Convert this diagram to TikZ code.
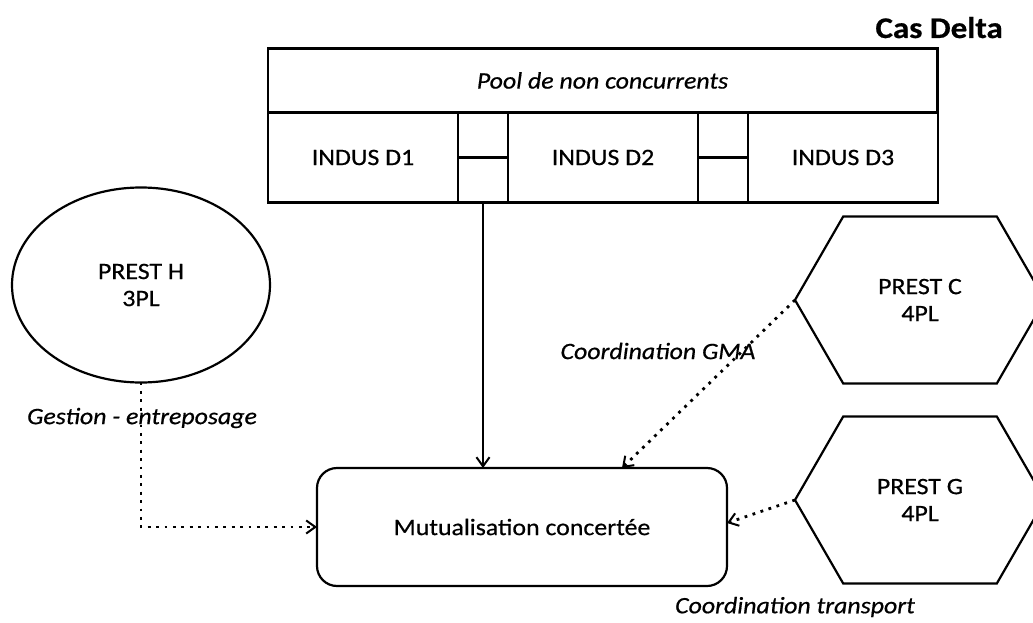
\documentclass[tikz,border=0pt]{standalone}
\usepackage{fontspec}
\setmainfont{Carlito}[FakeStretch=1.1, FakeBold=0.6]
\usetikzlibrary{arrows.meta, positioning, shapes.geometric, shapes.symbols, fit, calc}
\newcommand{\bigtxt}{\fontsize{23.5}{27}\selectfont}
\tikzset{
  >={Straight Barb[length=3.2mm, width=4.6mm, line width=2pt]},
  box/.style={rectangle, draw=black, line width=2.2pt, align=center,
              inner sep=0pt, outer sep=0pt, font=\bigtxt},
  bandbox/.style={box, minimum width=669pt, minimum height=64pt, font=\bigtxt\itshape},
  indus/.style={box, minimum width=190pt, minimum height=90pt},
  mutu/.style={box, rounded corners=20pt, minimum width=410pt, minimum height=118pt},
  prestell/.style={box, ellipse, minimum width=258pt, minimum height=195pt},
  presthex/.style={box, signal, signal to=west and east, signal pointer angle=120,
                   minimum width=250pt, minimum height=167pt},
  title/.style={font=\fontsize{30}{33}\selectfont\bfseries, inner sep=0pt},
  link/.style={line width=2.2pt},
  flow/.style={->, line width=2.2pt},
  flowd/.style={->, line width=2.8pt, dash pattern=on 2.8pt off 5.6pt},
  lbl/.style={font=\bigtxt\itshape, inner sep=0pt},
}

\begin{document}
\begin{tikzpicture}[x=1pt, y=-1pt]
  \useasboundingbox (0,0) rectangle (1033,623);
  \node[title, anchor=base east] (cas) at (1003,38) {Cas Delta};
  \node[bandbox] (band) at (602.5,80.5) {Pool de non concurrents};
  \node[indus, anchor=north west] (d1) at (band.south west) {INDUS D1};
  \node[indus, right=50pt of d1] (d2) {INDUS D2};
  \node[indus, right=50pt of d2] (d3) {INDUS D3};
  \node[box, fit=(band)(d1)(d3)] (pool) {};
  \node[mutu] (mut) at (522,527) {Mutualisation concertée};
  \node[prestell] (presth) at (141,285) {PREST H\\3PL};
  \node[presthex] (prestc) at (920,300) {PREST C\\4PL};
  \node[presthex] (prestg) at (920,500) {PREST G\\4PL};
  \draw[link] (d1) -- (d2);
  \draw[link] (d2) -- (d3);
  \coordinate (gap) at ($(d1.south east)!0.5!(d2.south west)$);
  \draw[flow] (gap) -- (gap |- mut.north);
  \draw[flowd] (presth.south) |- (mut.west);
  \draw[flowd] (prestc.west) -- ([xshift=100pt]mut.north);
  \draw[flowd] (prestg.west) -- ([yshift=4pt]mut.east);
  \node[lbl] (lblh) at (142,418) {Gestion - entreposage};
  \node[lbl] (lblc) at (658,351) {Coordination GMA};
  \node[lbl] (lblg) at (795,607) {Coordination transport};
\end{tikzpicture}
\end{document}
